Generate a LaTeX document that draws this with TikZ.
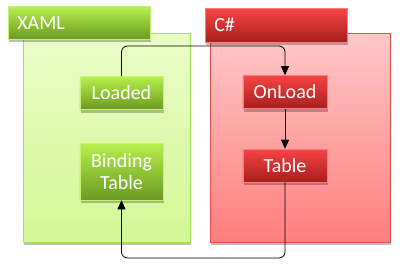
\documentclass[tikz,border=0pt]{standalone}
\usepackage{fontspec}
\setmainfont{Carlito}
\usetikzlibrary{shadows,arrows.meta}
\definecolor{gtop}{HTML}{B6F04E}
\definecolor{gbot}{HTML}{6A9A20}
\definecolor{gptop}{HTML}{EAFCC8}
\definecolor{gpbot}{HTML}{D2F894}
\definecolor{gpline}{HTML}{A8E05C}
\definecolor{rtop}{HTML}{F84444}
\definecolor{rbot}{HTML}{A81E1E}
\definecolor{rptop}{HTML}{FFC8C8}
\definecolor{rpbot}{HTML}{FF7E7E}
\definecolor{rpline}{HTML}{E85050}
\tikzset{
  shd/.style={drop shadow={shadow xshift=1bp,shadow yshift=-3bp,opacity=.25,fill=black}},
  gbox/.style={shd,draw=gtop!80!white,line width=0.6bp,top color=gtop,bottom color=gbot,text=white,
    font=\fontsize{20bp}{22.7bp}\selectfont,align=center,inner sep=0pt},
  rbox/.style={shd,draw=rtop!70!white,line width=0.6bp,top color=rtop,bottom color=rbot,text=white,
    font=\fontsize{20bp}{22.7bp}\selectfont,align=center,inner sep=0pt},
  gpanel/.style={shd,draw=gpline,line width=0.8bp,top color=gptop,bottom color=gpbot,anchor=north west,inner sep=0pt},
  rpanel/.style={shd,draw=rpline,line width=0.8bp,top color=rptop,bottom color=rpbot,anchor=north west,inner sep=0pt},
  hdr/.style={anchor=north west,minimum width=142bp,text width=124bp,inner xsep=9bp,inner ysep=0pt,align=left},
  conn/.style={draw=black,line width=0.8bp,rounded corners=6bp,-{Triangle[length=9bp,width=8bp]}}
}
\begin{document}
\begin{tikzpicture}[x=1bp,y=-1bp]
\useasboundingbox (0,0) rectangle (402,266);
% panels
\node[gpanel,minimum width=167bp,minimum height=209bp] (xamlpanel) at (23,33) {};
\node[rpanel,minimum width=180bp,minimum height=209bp] (cspanel) at (210,33) {};
% headers
\node[gbox,hdr,minimum height=33bp] (xamlhdr) at (8,6) {XAML};
\node[rbox,hdr,minimum height=34bp] (cshdr) at (205,8) {C\#};
% coordinates for connectors
\coordinate (c1) at (200,46);
\coordinate (c2) at (200,258);
% inner nodes
\node[gbox,minimum width=83bp,minimum height=33bp] (loaded) at (121.5,93) {Loaded};
\node[gbox,minimum width=83bp,minimum height=57bp] (binding) at (121.5,171.5) {Binding\\Table};
\node[rbox,minimum width=84bp,minimum height=33bp] (onload) at (285,92) {OnLoad};
\node[rbox,minimum width=84bp,minimum height=33bp] (table) at (285,165.5) {Table};
% connectors
\draw[conn] (loaded.north) |- (c1) -| (onload.north);
\draw[conn] (onload.south) -- (table.north);
\draw[conn] (table.south) |- (c2) -| (binding.south);
\end{tikzpicture}
\end{document}
